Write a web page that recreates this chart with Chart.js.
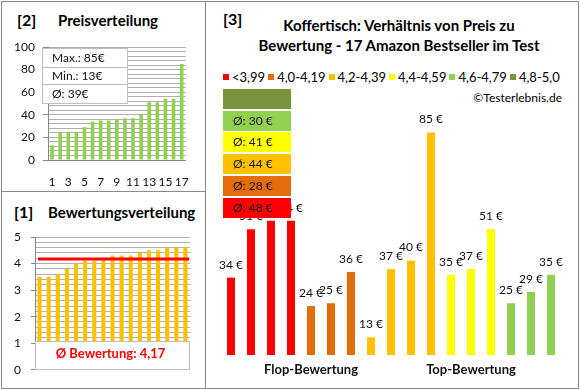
<!DOCTYPE html>
<html>
<head>
<meta charset="utf-8">
<script src="https://cdn.jsdelivr.net/npm/chart.js@4/dist/chart.umd.min.js"></script>
<style>
body { margin: 0; background: #fff; font-family: Lato, sans-serif; }
#wrap { position: relative; width: 580px; height: 390px; overflow: hidden; }
.frame { position: absolute; left: 1px; top: 1px; width: 576px; height: 386px; border: 1px solid #8a8a8a; }
.vline { position: absolute; left: 205px; top: 1px; width: 1px; height: 388px; background: #8a8a8a; }
.hline { position: absolute; left: 1px; top: 191px; width: 205px; height: 1px; background: #8a8a8a; }
.t { position: absolute; white-space: nowrap; color: #000; font-weight: bold; line-height: 20px; }
canvas { position: absolute; }
#legend { position: absolute; left: 223px; top: 68px; display: flex; gap: 3px; font-size: 13px; line-height: 18px; }
#legend span.k { display: inline-block; width: 6px; height: 6px; margin-right: 3px; vertical-align: 2px; }
</style>
</head>
<body>
<div id="wrap">
  <div class="frame"></div>
  <div class="vline"></div>
  <div class="hline"></div>

  <div class="t" style="left:17px;top:10px;font-size:16px;">[2]</div>
  <div class="t" style="left:58px;top:10px;font-size:15px;">Preisverteilung</div>
  <div class="t" style="left:14px;top:202px;font-size:16px;">[1]</div>
  <div class="t" style="left:48px;top:202px;font-size:15px;">Bewertungsverteilung</div>
  <div class="t" style="left:223px;top:9px;font-size:16px;">[3]</div>
  <div class="t" style="left:223px;top:15px;width:352px;text-align:center;font-size:15px;">Koffertisch: Verhältnis von Preis zu<br>Bewertung - 17 Amazon Bestseller im Test</div>
  <div id="legend"></div>
  <div class="t" style="right:18px;top:88px;font-size:12px;font-weight:normal;">©Testerlebnis.de</div>

  <canvas id="priceChart" width="202" height="188" style="left:2px;top:2px;"></canvas>
  <canvas id="ratingChart" width="202" height="195" style="left:2px;top:192px;"></canvas>
  <canvas id="mainChart" width="371" height="385" style="left:206px;top:2px;"></canvas>
</div>

<script>
// sorted distributions (left panels)
var rankLabels = ['1','2','3','4','5','6','7','8','9','10','11','12','13','14','15','16','17'];
var pricesSorted = [13, 24, 25, 25, 29, 34, 35, 35, 36, 37, 37, 40, 51, 51, 54, 54, 85];
var ratingsSorted = [3.5, 3.5, 3.6, 3.8, 4.0, 4.1, 4.1, 4.2, 4.3, 4.3, 4.3, 4.4, 4.5, 4.5, 4.6, 4.6, 4.6];

// main chart: price per product, grouped by rating class
var mainPrices = [34, 51, 54, 54, 24, 25, 36, 13, 37, 40, 85, 35, 37, 51, 25, 29, 35];
var mainGroups = [0, 0, 0, 0, 1, 1, 1, 2, 2, 2, 2, 3, 3, 3, 4, 4, 4];
var mainAxisLabels = ['', '', '', '', 'Flop-Bewertung', '', '', '', '', '', '', '', 'Top-Bewertung', '', '', '', ''];

var groupNames = ['<3,99', '4,0-4,19', '4,2-4,39', '4,4-4,59', '4,6-4,79', '4,8-5,0'];
var groupColors = ['#FF0000', '#E46C0A', '#FFC000', '#FFFF00', '#92D050', '#77933C'];

Chart.defaults.font.family = 'Lato, sans-serif';
Chart.defaults.color = '#111';

// legend
var legend = document.getElementById('legend');
groupNames.forEach(function (name, i) {
    var item = document.createElement('div');
    item.innerHTML = '<span class="k" style="background:' + groupColors[i] + '"></span>' + name;
    legend.appendChild(item);
});

function fmtDe(v, d) {
    return v.toFixed(d).replace('.', ',');
}

function isWhole(v) {
    return Math.abs(v - Math.round(v)) < 1e-6;
}

// ---------- [2] Preisverteilung ----------
var priceMax = Math.max.apply(null, pricesSorted);
var priceMin = Math.min.apply(null, pricesSorted);
var priceAvg = pricesSorted.reduce(function (a, b) { return a + b; }, 0) / pricesSorted.length;

var priceBox = {
    id: 'priceBox',
    afterDraw: function (chart) {
        var c = chart.ctx;
        var x = 40, y = 46, w = 85, h = 55;
        c.save();
        c.fillStyle = '#fff';
        c.fillRect(x, y, w, h);
        c.strokeStyle = '#bfbfbf';
        c.lineWidth = 1;
        c.strokeRect(x + 0.5, y + 0.5, w, h);
        c.beginPath();
        c.moveTo(x, 65.5); c.lineTo(x + w, 65.5);
        c.moveTo(x, 82.5); c.lineTo(x + w, 82.5);
        c.stroke();
        c.fillStyle = '#111';
        c.font = '12px Lato';
        c.textBaseline = 'middle';
        c.fillText('Max.: ' + priceMax + '€', 50, 56);
        c.fillText('Min.: ' + priceMin + '€', 50, 74);
        c.fillText('Ø: ' + Math.round(priceAvg) + '€', 50, 92);
        c.restore();
    }
};

new Chart(document.getElementById('priceChart'), {
    type: 'bar',
    data: {
        labels: rankLabels,
        datasets: [{ data: pricesSorted, backgroundColor: '#92D050', barPercentage: 0.45, categoryPercentage: 1 }]
    },
    options: {
        responsive: false,
        animation: false,
        layout: { padding: { left: 0, right: 14, top: 45, bottom: 0 } },
        plugins: { legend: { display: false }, tooltip: { enabled: false } },
        scales: {
            x: {
                afterFit: function (s) { s.height = 30; },
                grid: { display: false, drawTicks: false },
                border: { color: '#868686' },
                ticks: {
                    autoSkip: false, maxRotation: 0, padding: 15, font: { size: 12 },
                    callback: function (v, i) { return i % 2 === 0 ? rankLabels[i] : ''; }
                }
            },
            y: {
                min: 0, max: 100,
                afterFit: function (s) { s.width = 46; },
                grid: {
                    color: '#b0b0b0', tickLength: 5,
                    tickColor: function (c) { return c.tick && c.tick.value % 20 === 0 ? '#868686' : 'rgba(0,0,0,0)'; }
                },
                border: { color: '#868686' },
                ticks: {
                    stepSize: 4, autoSkip: false, padding: 8, font: { size: 12 },
                    callback: function (v) { return v % 20 === 0 ? v : ''; }
                }
            }
        }
    },
    plugins: [priceBox]
});

// ---------- [1] Bewertungsverteilung ----------
var ratingAvg = ratingsSorted.reduce(function (a, b) { return a + b; }, 0) / ratingsSorted.length;

var ratingOverlay = {
    id: 'ratingOverlay',
    afterDatasetsDraw: function (chart) {
        var c = chart.ctx, a = chart.chartArea, y = chart.scales.y;
        c.save();
        var ly = y.getPixelForValue(ratingAvg);
        c.strokeStyle = '#FF0000';
        c.lineWidth = 3;
        c.beginPath();
        c.moveTo(a.left + 3, ly);
        c.lineTo(a.right - 1, ly);
        c.stroke();

        var top = Math.round(y.getPixelForValue(1.07)), bottom = Math.round(a.bottom);
        c.fillStyle = '#fff';
        c.fillRect(a.left, top, a.right - a.left, bottom - top);
        c.strokeStyle = '#bfbfbf';
        c.lineWidth = 1;
        c.strokeRect(a.left + 0.5, top + 0.5, a.right - a.left - 1, bottom - top - 1);
        c.fillStyle = '#FF0000';
        c.font = 'bold 13px Lato';
        c.textAlign = 'center';
        c.textBaseline = 'middle';
        c.fillText('Ø Bewertung: ' + fmtDe(ratingAvg, 2), (a.left + a.right) / 2 - 2, top + 13);
        c.restore();
    }
};

new Chart(document.getElementById('ratingChart'), {
    type: 'bar',
    data: {
        labels: rankLabels,
        datasets: [{ data: ratingsSorted, backgroundColor: '#FFC000', barPercentage: 0.45, categoryPercentage: 1 }]
    },
    options: {
        responsive: false,
        animation: false,
        layout: { padding: { left: 0, right: 14, top: 45, bottom: 0 } },
        plugins: { legend: { display: false }, tooltip: { enabled: false } },
        scales: {
            x: {
                afterFit: function (s) { s.height = 14; },
                grid: { display: false, drawTicks: false },
                border: { display: false },
                ticks: { display: false }
            },
            y: {
                min: 0, max: 5,
                afterFit: function (s) { s.width = 33; },
                grid: {
                    color: '#b0b0b0', tickLength: 4,
                    tickColor: function (c) { return c.tick && isWhole(c.tick.value) ? '#868686' : 'rgba(0,0,0,0)'; }
                },
                border: { color: '#868686' },
                ticks: {
                    stepSize: 0.2, autoSkip: false, padding: 10, font: { size: 12 },
                    callback: function (v) { return isWhole(v) ? Math.round(v) : ''; }
                }
            }
        }
    },
    plugins: [ratingOverlay]
});

// ---------- [3] Preis zu Bewertung ----------
var groupAvg = groupNames.map(function (n, g) {
    var vals = mainPrices.filter(function (p, i) { return mainGroups[i] === g; });
    if (!vals.length) return null;
    return Math.round(vals.reduce(function (a, b) { return a + b; }, 0) / vals.length);
});

var mainOverlay = {
    id: 'mainOverlay',
    afterDatasetsDraw: function (chart) {
        var c = chart.ctx;
        c.save();
        // value labels
        c.font = '12px Lato';
        c.fillStyle = '#111';
        c.textAlign = 'center';
        c.textBaseline = 'middle';
        chart.getDatasetMeta(0).data.forEach(function (bar, i) {
            c.fillText(mainPrices[i] + ' €', bar.x, bar.y - 13);
        });
        // average boxes, best class on top
        c.textAlign = 'left';
        for (var k = 0; k < groupNames.length; k++) {
            var g = groupNames.length - 1 - k;
            var by = Math.round(87 + k * 21.7);
            c.fillStyle = groupColors[g];
            c.fillRect(17, by, 68, 20);
            if (groupAvg[g] !== null) {
                c.fillStyle = '#111';
                c.fillText('Ø: ' + groupAvg[g] + ' €', 27, by + 10);
            }
        }
        c.restore();
    }
};

new Chart(document.getElementById('mainChart'), {
    type: 'bar',
    data: {
        labels: mainAxisLabels,
        datasets: [{
            data: mainPrices,
            backgroundColor: mainGroups.map(function (g) { return groupColors[g]; }),
            barPercentage: 0.4,
            categoryPercentage: 1
        }]
    },
    options: {
        responsive: false,
        animation: false,
        layout: { padding: { left: 15, right: 16, top: 97, bottom: 0 } },
        plugins: { legend: { display: false }, tooltip: { enabled: false } },
        scales: {
            x: {
                afterFit: function (s) { s.height = 32; },
                grid: { display: false, drawTicks: false },
                border: { display: false },
                ticks: { autoSkip: false, maxRotation: 0, minRotation: 0, padding: 7, color: '#111', font: { size: 13, weight: 'bold' } }
            },
            y: { display: false, min: 6.8, max: 96.8 }
        }
    },
    plugins: [mainOverlay]
});
</script>
</body>
</html>
